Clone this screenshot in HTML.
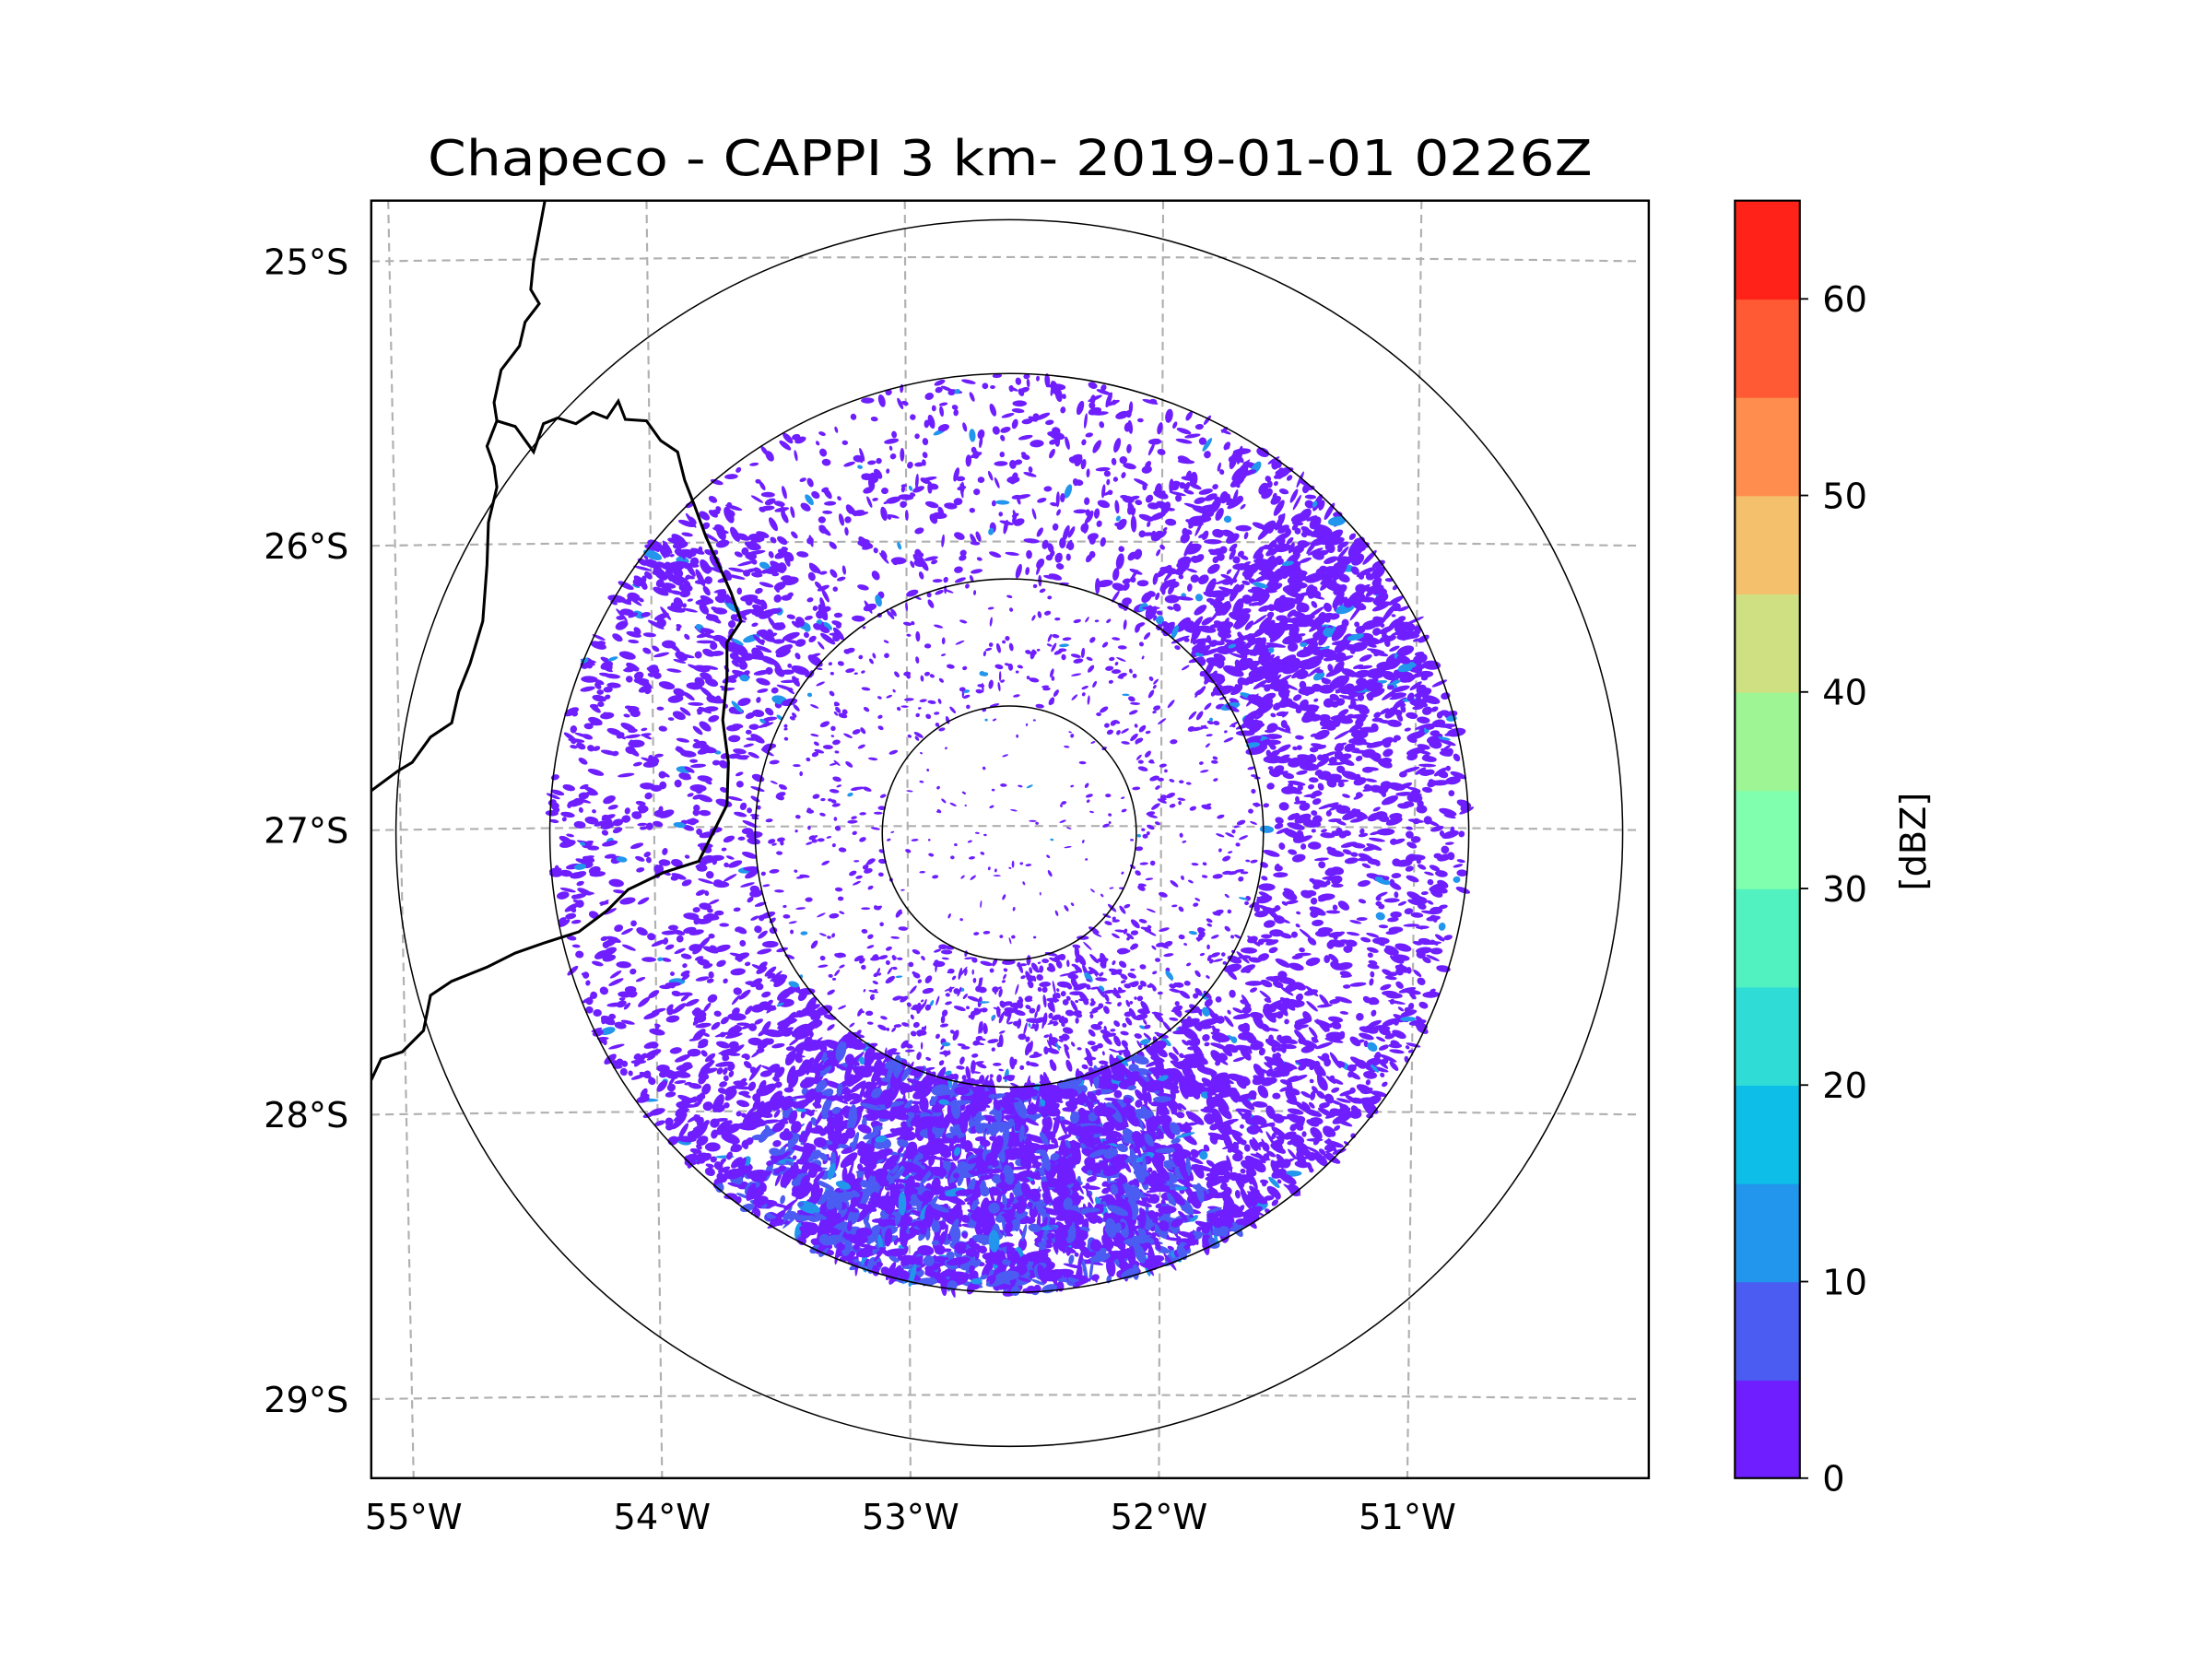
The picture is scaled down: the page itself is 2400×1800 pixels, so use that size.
<!DOCTYPE html>
<html><head><meta charset="utf-8"><style>
html,body{margin:0;padding:0;background:#fff;}
svg{display:block;font-family:"DejaVu Sans","Liberation Sans",sans-serif;}
</style></head><body>
<svg id="fig" width="2400" height="1800" viewBox="0 0 1567 1175" xmlns="http://www.w3.org/2000/svg">
<rect width="1567" height="1175" fill="#fff"/>
<text x="715.5" y="124" font-size="35" text-anchor="middle" textLength="825" lengthAdjust="spacingAndGlyphs">Chapeco - CAPPI 3 km- 2019-01-01 0226Z</text>
<defs><clipPath id="pc"><rect x="263" y="142" width="905" height="905"/></clipPath></defs>
<g id="grid" clip-path="url(#pc)" stroke="#b0b0b0" stroke-width="1.4" stroke-dasharray="6,4" fill="none"></g>
<g id="echo" clip-path="url(#pc)"></g>
<g id="rings" fill="none" stroke="#000" stroke-width="1"></g>
<g clip-path="url(#pc)" fill="none" stroke="#000" stroke-width="2">
<path d="M386,142 L378,185 L376,205 L382,215 L372,228 L368,245 L355,262 L350,285 L352,298 L345,316 L350,330 L352,345 L346,370 L345,400 L342,440 L333,470 L325,490 L320,512 L305,522 L292,540 L282,546 L263,560"/>
<path d="M352,298 L365,302 L378,320 L385,300 L395,296 L408,300 L420,292 L430,296 L438,284 L443,297 L458,298 L468,312 L480,320 L485,340 L492,358 L500,380 L510,402 L518,420 L525,440 L515,455 L515,480 L512,510 L516,540 L515,570 L505,590 L495,610 L470,618 L445,630 L430,645 L410,660 L385,668 L365,675 L345,685 L320,695 L305,705 L300,730 L285,745 L270,750 L263,765"/>
</g>
<rect x="263" y="142" width="905" height="905" fill="none" stroke="#000" stroke-width="1.6"/>
<g id="axlabels" font-size="25" fill="#000"></g>
<g id="cbar"></g>
<text x="0" y="0" font-size="25" text-anchor="middle" transform="translate(1364,596) rotate(-90)">[dBZ]</text>
</svg>
<script>
var NS="http://www.w3.org/2000/svg";
// --- data ---
var cbLevels=[0,5,10,15,20,25,30,35,40,45,50,55,60,65];
var cbColors=["#6e1eff","#4a5cf2","#2196ec","#0cbee8","#2fdcd6","#52f2c0","#80ffae","#9ef594","#cfe082","#f4c06c","#ff8e4e","#ff5a34","#ff2218"];
var cbTicks=[0,10,20,30,40,50,60];
var latTicks=["25°S","26°S","27°S","28°S","29°S"];
var latVals=[-25,-26,-27,-28,-29];
var lonTicks=["55°W","54°W","53°W","52°W","51°W"];
var lonVals=[-55,-54,-53,-52,-51];
var ringRangesKm=[50,100,150,200];
// echo density by 10° sector (clockwise from east), outer band & inner band
var densOuter=[0.5,0.5,0.5,0.6,0.7,0.8,0.9,1,1,1,1,0.95,0.85,0.7,0.55,0.45,0.4,0.45,0.45,0.45,0.5,0.65,0.55,0.35,0.35,0.35,0.35,0.4,0.4,0.45,0.6,0.75,0.8,0.75,0.65,0.55];
var densInner=[0.3,0.3,0.35,0.4,0.5,0.6,0.65,0.65,0.6,0.6,0.55,0.5,0.4,0.35,0.3,0.3,0.3,0.3,0.3,0.3,0.3,0.3,0.3,0.3,0.3,0.3,0.3,0.3,0.3,0.3,0.3,0.3,0.35,0.35,0.3,0.3];
var densCore=0.3;
// --- axes ---
var cx=715,cy=590;
var ringPx=[90,180,325.5,434.5];
function latY(v,x){var base=185+(-25-v)*201.5;var t=(x-715)/452;return base-3+3*t*t;}
function lonX(v,y){var t=(y-142)/905;var top=641+(v+53)*183,bot=645+(v+53)*176;return top+(bot-top)*t;}
function el(n,a,p){var e=document.createElementNS(NS,n);for(var k in a)e.setAttribute(k,a[k]);p.appendChild(e);return e;}
var grid=document.getElementById('grid');
latVals.forEach(function(v){var d="";for(var x=263;x<=1168;x+=15){d+=(x==263?"M":"L")+x+","+latY(v,x).toFixed(1);}
var p=el("path",{d:d},grid);

});
lonVals.forEach(function(v){var p=el("line",{x1:lonX(v,142),y1:142,x2:lonX(v,1047),y2:1047},grid);

});
var ax=document.getElementById('axlabels');
latVals.forEach(function(v,i){var t=el("text",{x:247,y:latY(v,263)+9,"text-anchor":"end"},ax);t.textContent=latTicks[i];

});
lonVals.forEach(function(v,i){var t=el("text",{x:lonX(v,1047),y:1083,"text-anchor":"middle"},ax);t.textContent=lonTicks[i];

});
var rings=document.getElementById('rings');
ringRangesKm.forEach(function(r,i){var c=el("circle",{cx:cx,cy:cy,r:ringPx[i]},rings);

});
// colorbar
var cb=document.getElementById('cbar'),cbx=1229,cbw=46,cbt=142,cbb=1047;
function cbY(v){return cbb-(v-0)/(65-0)*(cbb-cbt);}
for(var i=0;i<cbColors.length;i++){var r=el("rect",{x:cbx,y:cbY(cbLevels[i+1]),width:cbw,height:cbY(cbLevels[i])-cbY(cbLevels[i+1])+0.5,fill:cbColors[i]},cb);

}
el("rect",{x:cbx,y:cbt,width:cbw,height:cbb-cbt,fill:"none",stroke:"#000","stroke-width":1.4},cb);
cbTicks.forEach(function(v){var y=cbY(v);el("line",{x1:cbx+cbw,x2:cbx+cbw+6,y1:y,y2:y,stroke:"#000","stroke-width":1.2},cb);
var t=el("text",{x:1291,y:y+9,"font-size":25},cb);t.textContent=v;

});
// echoes (deterministic texture generator)
var seed=12345;function rnd(){seed=(seed*1103515245+12345)%2147483648;return seed/2147483648;}
var echo=document.getElementById('echo');
function blobs(dens,r0,r1,a0,a1,k,sz){var n=Math.round(Math.pow(dens,1.6)*k);for(var j=0;j<n;j++){var a=(a0+rnd()*(a1-a0))*Math.PI/180;var r=Math.sqrt(r0*r0+rnd()*(r1*r1-r0*r0));
var x=cx+r*Math.cos(a),y=cy+r*Math.sin(a);var rx=(1.5+rnd()*5*(0.4+dens))*sz,ry=(1+rnd()*2*(0.4+dens))*sz;
var ang=(rnd()<0.5?a*180/Math.PI:0)+(rnd()-0.5)*50;var col=(dens>0.8&&rnd()<0.3)?"#4a5cf2":(rnd()<0.03?"#2196ec":"#6e1eff");
el("ellipse",{cx:x.toFixed(1),cy:y.toFixed(1),rx:rx.toFixed(1),ry:ry.toFixed(1),fill:col,transform:"rotate("+ang.toFixed(0)+" "+x.toFixed(1)+" "+y.toFixed(1)+")"},echo);}}
for(var s=0;s<36;s++){blobs(densOuter[s],180,325,s*10,s*10+10,320,1.05);blobs(densInner[s],90,180,s*10,s*10+10,130,0.75);}
blobs(densCore,8,90,0,360,700,0.55);
</script>
</body></html>
